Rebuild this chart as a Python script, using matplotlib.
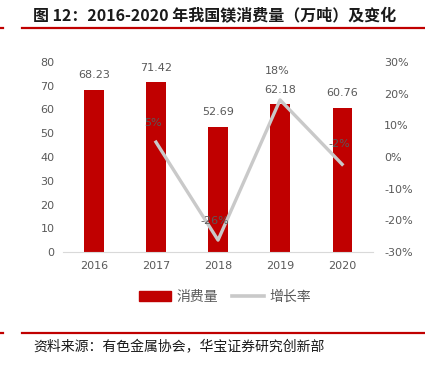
import matplotlib.pyplot as plt
from matplotlib.ticker import PercentFormatter
from matplotlib.lines import Line2D

plt.rcParams['font.family'] = ['Noto Sans CJK SC', 'DejaVu Sans']
plt.rcParams['axes.unicode_minus'] = False

years = ["2016", "2017", "2018", "2019", "2020"]
consumption = [68.23, 71.42, 52.69, 62.18, 60.76]
growth_years = ["2017", "2018", "2019", "2020"]
growth = [4.7, -26.2, 18.0, -2.3]
growth_labels = ["5%", "-26%", "18%", "-2%"]

title = "图 12：2016-2020 年我国镁消费量（万吨）及变化"
source = "资料来源：有色金属协会，华宝证券研究创新部"

red = "#C00000"
gray_line = "#C9C9C9"
txt = "#595959"

fig = plt.figure(figsize=(4.25, 3.66), dpi=100)
ax = fig.add_axes([0.148, 0.311, 0.73, 0.52])

x = range(len(years))
bars = ax.bar(x, consumption, width=0.31, color=red, zorder=2)
for i, v in enumerate(consumption):
    ax.annotate(f"{v:.2f}", (i, v), xytext=(0, 7), textcoords="offset points",
                ha="center", va="bottom", fontsize=8, color=txt, family="DejaVu Sans")
ax.set_ylim(0, 80)
ax.set_xlim(-0.5, len(years) - 0.5)
ax.set_yticks(range(0, 81, 10))
ax.set_xticks(list(x))
ax.set_xticklabels(years)
ax.tick_params(length=0, labelsize=8, colors=txt, pad=6)
for lbl in ax.get_xticklabels() + ax.get_yticklabels():
    lbl.set_family("DejaVu Sans")
for s in ["top", "left", "right"]:
    ax.spines[s].set_visible(False)
ax.spines["bottom"].set_color("#D9D9D9")

ax2 = ax.twinx()
gx = [years.index(y) for y in growth_years]
ax2.plot(gx, growth, color=gray_line, lw=2.4, zorder=3)
offsets = [10, 10, 17, 11]
for xi, g, lab, off in zip(gx, growth, growth_labels, offsets):
    ax2.annotate(lab, (xi, g), xytext=(-2, off), textcoords="offset points",
                 ha="center", va="bottom", fontsize=8, color=txt, family="DejaVu Sans")
ax2.set_ylim(-30, 30)
ax2.set_yticks(range(-30, 31, 10))
ax2.yaxis.set_major_formatter(PercentFormatter(decimals=0))
ax2.tick_params(length=0, labelsize=8, colors=txt, pad=8)
for lbl in ax2.get_yticklabels():
    lbl.set_family("DejaVu Sans")
for s in ["top", "left", "right", "bottom"]:
    ax2.spines[s].set_visible(False)

handles = [plt.Rectangle((0, 0), 1, 1, color=red),
           Line2D([0], [0], color=gray_line, lw=2.6)]
fig.legend(handles, ["消费量", "增长率"], loc="center", bbox_to_anchor=(0.53, 0.188),
           ncol=2, frameon=False, fontsize=10, labelcolor=txt,
           handlelength=2.3, handleheight=0.7, columnspacing=1.0, handletextpad=0.4)

fig.text(0.078, 0.957, title, fontsize=11.5, fontweight="bold", color="#1a1a1a", va="center")
fig.add_artist(Line2D([0.052, 1.0], [0.923, 0.923], color=red, lw=1.6))
fig.add_artist(Line2D([0.0, 0.008], [0.923, 0.923], color=red, lw=1.6))
fig.add_artist(Line2D([0.052, 1.0], [0.09, 0.09], color=red, lw=1.6))
fig.add_artist(Line2D([0.0, 0.008], [0.09, 0.09], color=red, lw=1.6))
fig.text(0.078, 0.051, source, fontsize=10, color="#1a1a1a", va="center")

fig.savefig("out.png", dpi=100)
